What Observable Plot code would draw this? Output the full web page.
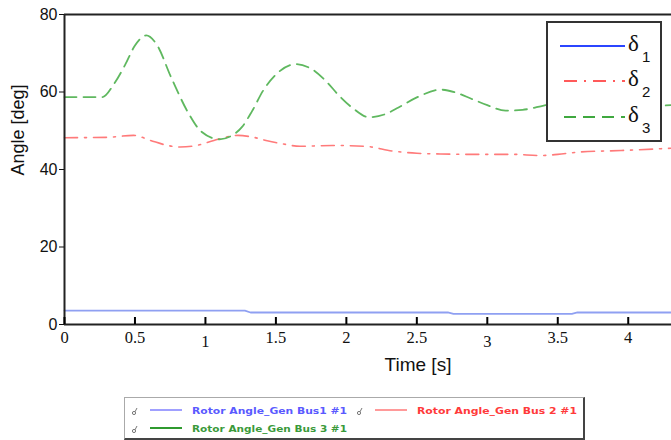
<!DOCTYPE html>
<html>
<head>
<meta charset="utf-8">
<script src="https://cdn.jsdelivr.net/npm/d3@7"></script>
<script src="https://cdn.jsdelivr.net/npm/@observablehq/plot@0.6"></script>
<style>
  html, body { margin: 0; padding: 0; background: #fff; }
  #wrap { position: relative; width: 671px; height: 440px; overflow: hidden; }
  #wrap svg.plot { position: absolute; left: 0; top: 0; }
  #inlegend { position: absolute; left: 546px; top: 21px; width: 112px; height: 117px;
              border: 2px solid #333; background: #fff; box-sizing: content-box; }
  #botlegend { position: absolute; left: 124px; top: 397px; width: 458px; height: 40px;
               border: 1px solid #aaa; border-right: 2px solid #444; border-bottom: 2px solid #444; background: #fff; }
</style>
</head>
<body>
<div id="wrap"></div>
<script>
// ---- data ----
const t3 = [0, 0.27, 0.35, 0.43, 0.5, 0.58, 0.65, 0.76, 0.88, 0.97, 1.1, 1.18, 1.26, 1.33, 1.41, 1.5, 1.64, 1.75, 1.85, 1.95, 2.04, 2.16, 2.27, 2.37, 2.5, 2.67, 2.78, 2.89, 3.0, 3.13, 3.25, 3.4, 3.55, 3.7, 3.85, 4.0, 4.15, 4.307];
const delta3 = [58.7, 58.7, 62, 67, 72, 74.6, 72.5, 63.5, 54.5, 49.8, 47.8, 48.6, 51, 55, 60.4, 64.5, 67.2, 66, 63, 59, 56, 53.5, 54.2, 56, 58.6, 60.6, 59.8, 58.2, 56.6, 55.2, 55.4, 56.5, 57.6, 58, 57.6, 56.8, 56.4, 56.6];

const t2 = [0, 0.3, 0.49, 0.61, 0.72, 0.82, 0.95, 1.06, 1.23, 1.33, 1.43, 1.55, 1.67, 1.9, 2.13, 2.34, 2.5, 2.67, 2.95, 3.19, 3.37, 3.5, 3.65, 3.95, 4.307];
const delta2 = [48.2, 48.3, 48.8, 47.5, 46.3, 45.8, 46.3, 47.5, 48.8, 48.4, 47.5, 46.6, 46.0, 46.2, 46.0, 44.7, 44.2, 44.0, 43.9, 43.9, 43.6, 43.9, 44.5, 44.9, 45.5];

const t1 = [0, 1.28, 1.32, 2.72, 2.76, 3.6, 3.64, 4.307];
const delta1 = [3.6, 3.6, 3.1, 3.1, 2.75, 2.75, 3.1, 3.1];

const xTicksMain = [0, 0.5, 1.5, 2, 2.5, 3.5, 4];
const xTicksLow = [1, 3];
const xTicksAll = [0, 0.5, 1, 1.5, 2, 2.5, 3, 3.5, 4];
const yTicks = [0, 20, 40, 60, 80];
const xLabel = "Time [s]";
const yLabel = "Angle [deg]";
const legendSymbols = ["δ", "δ", "δ"];
const legendSubs = ["1", "2", "3"];
const bottomNames = ["Rotor Angle_Gen Bus1 #1", "Rotor Angle_Gen Bus 2 #1", "Rotor Angle_Gen Bus 3 #1"];

const s1 = t1.map((t, i) => ({t, v: delta1[i]}));
const s2 = t2.map((t, i) => ({t, v: delta2[i]}));
const s3 = t3.map((t, i) => ({t, v: delta3[i]}));

const serif = "'Liberation Serif', 'DejaVu Serif', serif";
const sans = "'Liberation Sans', Arial, sans-serif";
const fmt = d => String(d);

const chart = Plot.plot({
  width: 671,
  height: 390,
  marginLeft: 64,
  marginRight: 0,
  marginTop: 14,
  marginBottom: 66,
  x: {domain: [0, 4.307]},
  y: {domain: [0, 80]},
  style: {background: "transparent", overflow: "visible"},
  marks: [
    Plot.line(s1, {x: "t", y: "v", stroke: "#8fa0f2", strokeWidth: 1.8, curve: "linear"}),
    Plot.line(s2, {x: "t", y: "v", stroke: "#ff7a7a", strokeWidth: 1.6, strokeDasharray: "13,7,2,7", curve: "monotone-x"}),
    Plot.line(s3, {x: "t", y: "v", stroke: "#5fb85f", strokeWidth: 1.8, strokeDasharray: "12,7", curve: "monotone-x"}),
    Plot.ruleY([0], {stroke: "#222", strokeWidth: 2}),
    Plot.ruleY([80], {stroke: "#222", strokeWidth: 2}),
    Plot.ruleX([0], {stroke: "#222", strokeWidth: 2}),
    Plot.axisY({ticks: yTicks, tickSize: 5, tickPadding: 2, fontSize: 16, fontFamily: sans, label: null, color: "#111"}),
    Plot.axisX({ticks: xTicksAll, tickSize: -7, tickFormat: () => "", label: null, strokeWidth: 2}),
    Plot.axisX({ticks: xTicksMain, tickSize: 0, tickPadding: 7, tickFormat: fmt, fontSize: 16.5, fontFamily: serif, label: null, color: "#111"}),
    Plot.axisX({ticks: xTicksLow, tickSize: 0, tickPadding: 11, tickFormat: fmt, fontSize: 16.5, fontFamily: serif, label: null, color: "#111"}),
    Plot.text([xLabel], {text: d => d, frameAnchor: "bottom", dx: 50, dy: 46, fontSize: 19, fontFamily: sans, fill: "#111"}),
    Plot.text([yLabel], {text: d => d, frameAnchor: "left", dx: -46, dy: 6, rotate: -90, fontSize: 18, fontFamily: sans, fill: "#111"})
  ]
});
chart.classList.add("plot");
document.getElementById("wrap").appendChild(chart);

// in-plot legend
const ns = "http://www.w3.org/2000/svg";
const inl = document.createElement("div");
inl.id = "inlegend";
const styles = [
  {stroke: "#2b45ff", dash: null},
  {stroke: "#ff5a5a", dash: "13,7,2,7"},
  {stroke: "#3fa83f", dash: "12,7"}
];
let svgIn = `<svg xmlns="${ns}" width="112" height="117">`;
const rowsY = [23, 58, 94];
styles.forEach((s, i) => {
  svgIn += `<line x1="12" x2="77" y1="${rowsY[i]}" y2="${rowsY[i]}" stroke="${s.stroke}" stroke-width="2" ${s.dash ? `stroke-dasharray="${s.dash}" stroke-dashoffset="-4"` : ""}/>`;
  svgIn += `<text x="80" y="${rowsY[i] + 5}" font-family="${serif}" font-size="23" fill="#111">${legendSymbols[i]}</text>`;
  svgIn += `<text x="94" y="${rowsY[i] + 16}" font-family="${sans}" font-size="15" fill="#111">${legendSubs[i]}</text>`;
});
svgIn += `</svg>`;
inl.innerHTML = svgIn;
document.getElementById("wrap").appendChild(inl);

// bottom legend (below the plot)
const bl = document.createElement("div");
bl.id = "botlegend";
const bcols = [
  {line: "#a0a0ff", text: "#5a5aff"},
  {line: "#ff9a9a", text: "#ff3a3a"},
  {line: "#2f9a2f", text: "#3a9a3a"}
];
const bpos = [[0, 12], [225, 12], [0, 30]];
let svgB = `<svg xmlns="${ns}" width="458" height="40">`;
bcols.forEach((c, i) => {
  const [ox, oy] = bpos[i];
  svgB += `<g transform="translate(${ox},${oy})">
    <circle cx="9" cy="3" r="1.6" fill="none" stroke="#777" stroke-width="1"/>
    <line x1="10" y1="1.8" x2="12" y2="-2" stroke="#777" stroke-width="1"/>
    <line x1="25" x2="57" y1="0" y2="0" stroke="${c.line}" stroke-width="2"/>
    <text x="67" y="3.5" font-family="'DejaVu Sans', sans-serif" font-size="9.5" font-weight="600" fill="${c.text}" textLength="${i === 1 ? 160 : 155}" lengthAdjust="spacingAndGlyphs">${bottomNames[i]}</text>
  </g>`;
});
svgB += `</svg>`;
bl.innerHTML = svgB;
document.getElementById("wrap").appendChild(bl);
</script>
</body>
</html>
